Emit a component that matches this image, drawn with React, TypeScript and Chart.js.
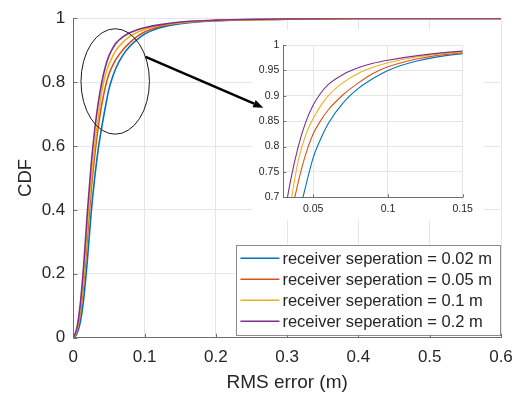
import React, { useEffect, useRef } from "react";
import { Chart, registerables } from "chart.js";
Chart.register(...registerables);

const rmsError = [0, 0.005, 0.01, 0.015, 0.02, 0.025, 0.03, 0.035, 0.04, 0.045, 0.05, 0.055, 0.06, 0.07, 0.08, 0.09, 0.1, 0.12, 0.15, 0.2, 0.3, 0.4, 0.6];
const cdfSep002 = [0, 0.012, 0.05, 0.13, 0.25, 0.39, 0.5, 0.59, 0.66, 0.722, 0.778, 0.815, 0.845, 0.886, 0.914, 0.934, 0.95, 0.969, 0.983, 0.992, 0.997, 0.999, 0.9995];
const cdfSep005 = [0, 0.02, 0.08, 0.18, 0.32, 0.46, 0.57, 0.66, 0.73, 0.785, 0.825, 0.851, 0.872, 0.902, 0.925, 0.944, 0.957, 0.973, 0.985, 0.993, 0.997, 0.999, 0.9995];
const cdfSep01 = [0, 0.022, 0.09, 0.2, 0.35, 0.49, 0.6, 0.69, 0.772, 0.823, 0.855, 0.88, 0.9, 0.926, 0.944, 0.956, 0.965, 0.977, 0.986, 0.993, 0.997, 0.999, 0.9995];
const cdfSep02 = [0, 0.03, 0.11, 0.24, 0.4, 0.54, 0.65, 0.735, 0.8, 0.848, 0.882, 0.905, 0.922, 0.942, 0.955, 0.964, 0.97, 0.979, 0.988, 0.994, 0.998, 0.999, 0.9995];

const seriesLabels = [
  "receiver seperation = 0.02 m",
  "receiver seperation = 0.05 m",
  "receiver seperation = 0.1 m",
  "receiver seperation = 0.2 m",
];
const seriesValues = [cdfSep002, cdfSep005, cdfSep01, cdfSep02];
const seriesColors = ["#0072BD", "#D95319", "#EDB120", "#7E2F8E"];

const mainXTicks = [0, 0.1, 0.2, 0.3, 0.4, 0.5, 0.6];
const mainYTicks = [0, 0.2, 0.4, 0.6, 0.8, 1];
const insetXTicks = [0.05, 0.1, 0.15];
const insetYTicks = [0.7, 0.75, 0.8, 0.85, 0.9, 0.95, 1];

// annotation in data units of the main axes
const zoomEllipse = { cx: 0.0588, cy: 0.802, rx: 0.048, ry: 0.165 };
const arrowFrom = { x: 0.1015, y: 0.879 };
const arrowTo = { x: 0.2665, y: 0.72 };

const FONT = "'Liberation Sans', Arial, Helvetica, sans-serif";
const TEXT = "#262626";
const AXIS = "#6e6e6e";
const GRID = "#e6e6e6";

function makeDatasets(width: number) {
  return seriesValues.map((vals, i) => ({
    label: seriesLabels[i],
    data: rmsError.map((x, j) => ({ x, y: vals[j] })),
    borderColor: seriesColors[i],
    backgroundColor: seriesColors[i],
    borderWidth: width,
    pointRadius: 0,
    cubicInterpolationMode: "monotone" as const,
    fill: false,
    order: seriesValues.length - i,
  }));
}

function inwardTicks(len: number) {
  return {
    id: "inwardTicks",
    afterDatasetsDraw(chart: any) {
      const { ctx, chartArea, scales } = chart;
      ctx.save();
      ctx.strokeStyle = AXIS;
      ctx.lineWidth = 1;
      ctx.beginPath();
      scales.x.ticks.forEach((t: any) => {
        const px = Math.round(scales.x.getPixelForValue(t.value)) + 0.5;
        ctx.moveTo(px, chartArea.bottom);
        ctx.lineTo(px, chartArea.bottom - len);
      });
      scales.y.ticks.forEach((t: any) => {
        const py = Math.round(scales.y.getPixelForValue(t.value)) + 0.5;
        ctx.moveTo(chartArea.left, py);
        ctx.lineTo(chartArea.left + len, py);
      });
      ctx.stroke();
      ctx.restore();
    },
  };
}

const legendPlugin = {
  id: "boxLegend",
  afterDraw(chart: any) {
    const { ctx } = chart;
    const area = chart.chartArea;
    ctx.save();
    const fs = 16.5;
    ctx.font = `${fs}px ${FONT}`;
    const lineLen = 39;
    const rowH = 21;
    const textW = Math.max(...seriesLabels.map((s) => ctx.measureText(s).width));
    const boxW = 4 + lineLen + 3 + textW + 8;
    const boxH = rowH * seriesLabels.length + 6;
    const boxR = area.right - 1;
    const boxB = area.bottom - 3;
    const boxL = boxR - boxW;
    const boxT = boxB - boxH;
    ctx.fillStyle = "#fff";
    ctx.fillRect(boxL, boxT, boxW, boxH);
    ctx.strokeStyle = "#8c8c8c";
    ctx.lineWidth = 1;
    ctx.strokeRect(Math.round(boxL) + 0.5, Math.round(boxT) + 0.5, Math.round(boxW), Math.round(boxH));
    ctx.textBaseline = "middle";
    ctx.textAlign = "left";
    seriesLabels.forEach((lab, i) => {
      const yy = boxT + 3 + rowH * i + rowH / 2;
      ctx.strokeStyle = seriesColors[i];
      ctx.lineWidth = 1.5;
      ctx.beginPath();
      ctx.moveTo(boxL + 4, yy);
      ctx.lineTo(boxL + 4 + lineLen, yy);
      ctx.stroke();
      ctx.fillStyle = TEXT;
      ctx.fillText(lab, boxL + 4 + lineLen + 3, yy + 1);
    });
    ctx.restore();
  },
};

function drawAnnotations(chart: any, overlay: HTMLCanvasElement | null) {
  if (!overlay) return;
  const ctx = overlay.getContext("2d");
  if (!ctx) return;
  const xs = chart.scales.x, ys = chart.scales.y;
  ctx.clearRect(0, 0, overlay.width, overlay.height);
  ctx.save();
  const cx = xs.getPixelForValue(zoomEllipse.cx);
  const cy = ys.getPixelForValue(zoomEllipse.cy);
  const rx = xs.getPixelForValue(zoomEllipse.cx + zoomEllipse.rx) - cx;
  const ry = cy - ys.getPixelForValue(zoomEllipse.cy + zoomEllipse.ry);
  ctx.strokeStyle = "#1a1a1a";
  ctx.lineWidth = 1;
  ctx.beginPath();
  ctx.ellipse(cx, cy, rx, ry, 0, 0, Math.PI * 2);
  ctx.stroke();
  const x1 = xs.getPixelForValue(arrowFrom.x), y1 = ys.getPixelForValue(arrowFrom.y);
  const x2 = xs.getPixelForValue(arrowTo.x), y2 = ys.getPixelForValue(arrowTo.y);
  const ang = Math.atan2(y2 - y1, x2 - x1);
  const hl = 10, hw = 4;
  const bx = x2 - hl * Math.cos(ang), by = y2 - hl * Math.sin(ang);
  ctx.strokeStyle = "#000";
  ctx.fillStyle = "#000";
  ctx.lineWidth = 2.5;
  ctx.beginPath();
  ctx.moveTo(x1, y1);
  ctx.lineTo(bx, by);
  ctx.stroke();
  ctx.beginPath();
  ctx.moveTo(x2, y2);
  ctx.lineTo(bx + hw * Math.sin(ang), by - hw * Math.cos(ang));
  ctx.lineTo(bx - hw * Math.sin(ang), by + hw * Math.cos(ang));
  ctx.closePath();
  ctx.fill();
  ctx.restore();
}

function fmt(v: number) {
  return String(Math.round(v * 1000) / 1000);
}

export default function App() {
  const mainRef = useRef<HTMLCanvasElement>(null);
  const insetRef = useRef<HTMLCanvasElement>(null);
  const overlayRef = useRef<HTMLCanvasElement>(null);

  useEffect(() => {
    Chart.defaults.font.family = FONT;
    const main = new Chart(mainRef.current as HTMLCanvasElement, {
      type: "line",
      data: { datasets: makeDatasets(1.6) as any },
      options: {
        animation: false,
        responsive: false,
        events: [],
        layout: { padding: { top: 12.5, right: 22, left: 0, bottom: 0 } },
        plugins: { legend: { display: false }, tooltip: { enabled: false } },
        scales: {
          x: {
            type: "linear",
            min: 0,
            max: 0.6,
            afterFit: (s: any) => { s.height = 56.3; },
            afterBuildTicks: (s: any) => { s.ticks = mainXTicks.map((v) => ({ value: v })); },
            grid: { color: GRID, drawTicks: false },
            border: { color: AXIS, width: 1 },
            ticks: { color: TEXT, font: { size: 17 }, padding: 9, maxRotation: 0, callback: (v: any) => fmt(Number(v)) },
            title: { display: true, text: "RMS error (m)", color: TEXT, font: { size: 19 }, padding: { top: 2.5, bottom: 0 } },
          },
          y: {
            type: "linear",
            min: 0,
            max: 1,
            afterFit: (s: any) => { s.width = 73.3; },
            afterBuildTicks: (s: any) => { s.ticks = mainYTicks.map((v) => ({ value: v })); },
            grid: { color: GRID, drawTicks: false },
            border: { color: AXIS, width: 1 },
            ticks: { color: TEXT, font: { size: 17 }, padding: 8, callback: (v: any) => fmt(Number(v)) },
            title: { display: true, text: "CDF", color: TEXT, font: { size: 18.5 }, padding: { top: 15, bottom: 0 } },
          },
        },
      },
      plugins: [inwardTicks(4), legendPlugin],
    });

    const inset = new Chart(insetRef.current as HTMLCanvasElement, {
      type: "line",
      data: { datasets: makeDatasets(1.1) as any },
      options: {
        animation: false,
        responsive: false,
        events: [],
        layout: { padding: { top: 15, right: 20.3, left: 0, bottom: 0 } },
        plugins: { legend: { display: false }, tooltip: { enabled: false } },
        scales: {
          x: {
            type: "linear",
            min: 0.03,
            max: 0.15,
            afterFit: (s: any) => { s.height = 22.7; },
            afterBuildTicks: (s: any) => { s.ticks = insetXTicks.map((v) => ({ value: v })); },
            grid: { color: GRID, drawTicks: false },
            border: { color: AXIS, width: 1 },
            ticks: { color: TEXT, font: { size: 10.5 }, padding: 5.5, maxRotation: 0, callback: (v: any) => fmt(Number(v)) },
          },
          y: {
            type: "linear",
            min: 0.7,
            max: 1,
            afterFit: (s: any) => { s.width = 30.3; },
            afterBuildTicks: (s: any) => { s.ticks = insetYTicks.map((v) => ({ value: v })); },
            grid: { color: GRID, drawTicks: false },
            border: { color: AXIS, width: 1 },
            ticks: { color: TEXT, font: { size: 10.5 }, padding: 4, callback: (v: any) => fmt(Number(v)) },
          },
        },
      },
      plugins: [inwardTicks(3)],
    });

    drawAnnotations(main, overlayRef.current);

    return () => {
      main.destroy();
      inset.destroy();
    };
  }, []);

  return (
    <div style={{ position: "fixed", left: 0, top: 0, width: 523, height: 394, background: "#fff" }}>
      <canvas ref={mainRef} width={523} height={394} style={{ position: "absolute", left: 0, top: 0, width: 523, height: 394 }} />
      <canvas ref={insetRef} width={230} height={190} style={{ position: "absolute", left: 253, top: 30, width: 230, height: 190, background: "#fff" }} />
      <canvas ref={overlayRef} width={523} height={394} style={{ position: "absolute", left: 0, top: 0, width: 523, height: 394, pointerEvents: "none" }} />
    </div>
  );
}
